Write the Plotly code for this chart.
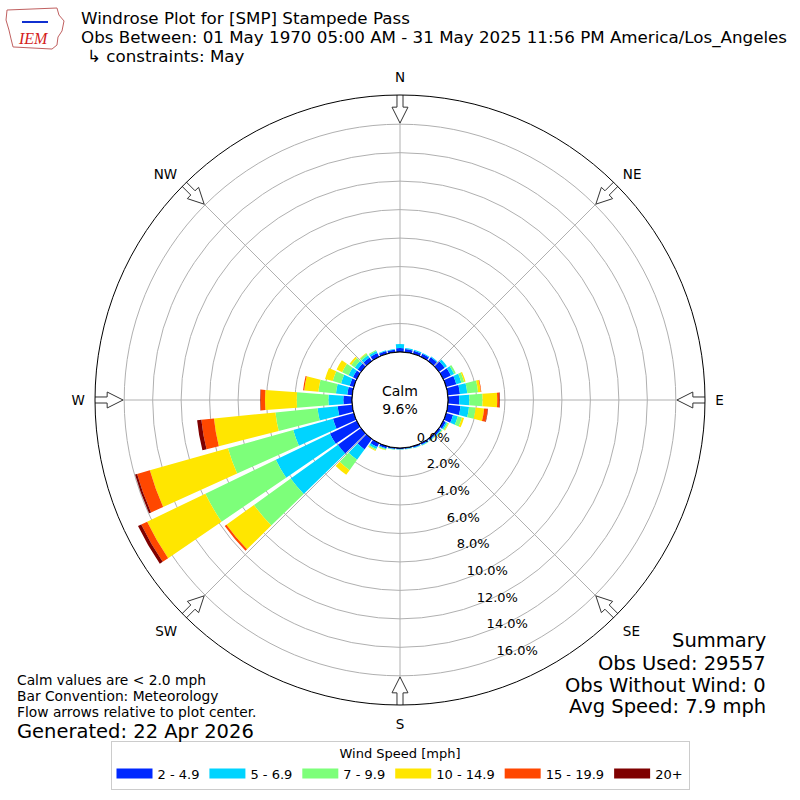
import numpy as np
import plotly.graph_objects as go

# wind direction bins (deg, meteorological) and percent frequency per speed bin
directions = list(range(0, 360, 10))

speed_bins = ["2 - 4.9", "5 - 6.9", "7 - 9.9", "10 - 14.9", "15 - 19.9", "20+"]
colors = ["#0028ff", "#00d4ff", "#7dff7a", "#ffe600", "#ff4700", "#7f0000"]

pct_2_5 = [0.28, 0.22, 0.22, 0.24, 0.33, 0.50, 0.60, 0.74, 0.86, 0.79, 0.90, 0.50,
           0.20, 0.15, 0.12, 0.12, 0.10, 0.08, 0.08, 0.09, 0.15, 0.30, 0.90, 2.00,
           2.09, 1.52, 1.03, 0.61, 0.35, 0.30, 0.30, 0.30, 0.30, 0.30, 0.20, 0.18]
pct_5_7 = [0.28, 0.08, 0.08, 0.06, 0.07, 0.19, 0.25, 0.37, 0.52, 0.71, 0.60, 0.35,
           0.10, 0.08, 0.05, 0.05, 0.04, 0.03, 0.03, 0.04, 0.07, 0.15, 0.90, 4.08,
           4.22, 2.90, 1.42, 1.05, 0.80, 0.63, 0.35, 0.25, 0.20, 0.15, 0.05, 0.04]
pct_7_10 = [0.00, 0.00, 0.00, 0.00, 0.00, 0.00, 0.13, 0.20, 0.76, 0.93, 0.47, 0.30,
            0.10, 0.05, 0.03, 0.03, 0.01, 0.01, 0.01, 0.02, 0.05, 0.10, 0.90, 3.18,
            5.49, 4.76, 2.97, 2.22, 1.24, 0.61, 0.49, 0.30, 0.15, 0.08, 0.00, 0.00]
pct_10_15 = [0.00, 0.00, 0.00, 0.00, 0.00, 0.00, 0.00, 0.10, 0.19, 1.03, 0.60, 0.15,
             0.05, 0.02, 0.00, 0.00, 0.00, 0.00, 0.00, 0.00, 0.03, 0.05, 0.40, 2.38,
             4.54, 5.70, 4.34, 2.23, 1.00, 0.56, 0.43, 0.14, 0.04, 0.00, 0.00, 0.00]
pct_15_20 = [0.00, 0.00, 0.00, 0.00, 0.00, 0.00, 0.00, 0.00, 0.04, 0.15, 0.25, 0.00,
             0.00, 0.00, 0.00, 0.00, 0.00, 0.00, 0.00, 0.00, 0.00, 0.00, 0.00, 0.15,
             0.46, 0.93, 0.89, 0.32, 0.08, 0.00, 0.00, 0.00, 0.00, 0.00, 0.00, 0.00]
pct_20p = [0.00, 0.00, 0.00, 0.00, 0.00, 0.00, 0.00, 0.00, 0.00, 0.04, 0.03, 0.00,
           0.00, 0.00, 0.00, 0.00, 0.00, 0.00, 0.00, 0.00, 0.00, 0.00, 0.00, 0.00,
           0.25, 0.15, 0.30, 0.03, 0.00, 0.00, 0.00, 0.00, 0.00, 0.00, 0.00, 0.00]

series = [pct_2_5, pct_5_7, pct_7_10, pct_10_15, pct_15_20, pct_20p]

compass_deg = [0, 45, 90, 135, 180, 225, 270, 315]
compass_lbl = ["N", "NE", "E", "SE", "S", "SW", "W", "NW"]
ring_vals = [0, 2, 4, 6, 8, 10, 12, 14, 16]

calm_pct = 9.6
r_max = 18.05
font = "DejaVu Sans"

fig = go.Figure()

# stacked bars
for name, col, vals in zip(speed_bins, colors, series):
    fig.add_trace(go.Barpolar(
        r=vals, theta=directions, width=8.6, name=name,
        marker=dict(color=col, line=dict(width=0)),
        showlegend=False, hoverinfo="skip"
    ))

# legend swatches
for name, col in zip(speed_bins, colors):
    fig.add_trace(go.Scatterpolar(
        r=[None], theta=[None], mode="lines", name=name,
        line=dict(color=col, width=10)
    ))

# inner calm circle
circ = np.linspace(0, 360, 181)
fig.add_trace(go.Scatterpolar(
    r=[0] * len(circ), theta=circ, mode="lines",
    line=dict(color="black", width=1), showlegend=False, hoverinfo="skip"
))

# flow arrows at compass points
arr_r = [16.08, 17.2, 17.2, 18.19, 18.19, 17.2, 17.2, 16.08]
arr_t = [0, 1.56, 0.59, 0.56, -0.56, -0.59, -1.56, 0]
for d in compass_deg:
    fig.add_trace(go.Scatterpolar(
        r=arr_r, theta=[d + t for t in arr_t], mode="lines",
        fill="toself", fillcolor="white",
        line=dict(color="#333333", width=1),
        cliponaxis=False, showlegend=False, hoverinfo="skip"
    ))

# radial labels
fig.add_trace(go.Scatterpolar(
    r=ring_vals, theta=[159.5] * len(ring_vals), mode="text",
    text=["%.1f%%" % v for v in ring_vals], textposition="top right",
    textfont=dict(family=font, size=13, color="black"),
    cliponaxis=False, showlegend=False, hoverinfo="skip"
))

fig.update_layout(
    width=800, height=800,
    margin=dict(l=0, r=0, t=0, b=0),
    paper_bgcolor="white",
    font=dict(family=font, color="black"),
    polar=dict(
        domain=dict(x=[0.11875, 0.88125], y=[0.11875, 0.88125]),
        bgcolor="white",
        hole=48 / 305,
        barmode="stack",
        angularaxis=dict(
            rotation=90, direction="clockwise",
            tickmode="array", tickvals=compass_deg, ticktext=compass_lbl,
            ticks="outside", ticklen=7, tickcolor="rgba(0,0,0,0)",
            tickfont=dict(size=13.5),
            showline=True, linecolor="black", linewidth=1,
            gridcolor="#b0b0b0", gridwidth=1,
        ),
        radialaxis=dict(
            range=[0, r_max], tickmode="array", tickvals=ring_vals[1:],
            showticklabels=False, ticks="", showline=False,
            gridcolor="#b0b0b0", gridwidth=1,
        ),
    ),
    legend=dict(
        orientation="h", x=0.5, xanchor="center", y=0.013, yanchor="bottom",
        bordercolor="#cccccc", borderwidth=1, bgcolor="white",
        font=dict(size=13), itemwidth=36,
        title=dict(text="Wind Speed [mph]", side="top center", font=dict(size=13)),
    ),
)


def txt(x, y, s, size, anchor="left", color="black", family=font):
    fig.add_annotation(x=x / 800, y=1 - y / 800, xref="paper", yref="paper",
                       text=s, showarrow=False, xanchor=anchor, yanchor="middle",
                       borderpad=0, font=dict(size=size, color=color, family=family),
                       align=anchor)


def px_path(pts):
    return "M" + " L".join("%.4f,%.4f" % (x / 800, 1 - y / 800) for x, y in pts) + " Z"


# IEM logo (rough)
fig.add_shape(type="path", xref="paper", yref="paper",
              path=px_path([(7, 10), (57, 8), (59, 15), (64, 21), (62, 31), (58, 37),
                            (57, 45), (52, 49), (13, 47), (11, 39), (9, 30), (6, 20)]),
              line=dict(color="#c06060", width=1))
fig.add_shape(type="line", xref="paper", yref="paper",
              x0=22 / 800, x1=48 / 800, y0=1 - 22 / 800, y1=1 - 22 / 800,
              line=dict(color="#1030d0", width=2))
txt(17, 39, "<i>IEM</i>", 16, color="#d42020", family="Liberation Serif")

txt(80, 18, "Windrose Plot for [SMP] Stampede Pass", 16.7)
txt(80, 37, "Obs Between: 01 May 1970 05:00 AM - 31 May 2025 11:56 PM America/Los_Angeles", 16.7)
txt(86, 56, "↳ constraints: May", 16.7)

fig.add_annotation(x=0.5, y=0.5, xref="paper", yref="paper", showarrow=False,
                   text="Calm<br>%.1f%%" % calm_pct, font=dict(size=14))

txt(16, 680, "Calm values are < 2.0 mph", 13.8)
txt(16, 696, "Bar Convention: Meteorology", 13.8)
txt(16, 712, "Flow arrows relative to plot center.", 13.8)
txt(16, 731, "Generated: 22 Apr 2026", 19.5)

txt(767, 640, "Summary", 19.5, anchor="right")
txt(767, 663, "Obs Used: 29557", 19.5, anchor="right")
txt(767, 685, "Obs Without Wind: 0", 19.5, anchor="right")
txt(767, 706, "Avg Speed: 7.9 mph", 19.5, anchor="right")

fig.write_html("out.html", config={"displayModeBar": False},
               post_script="document.body.style.margin='0';")
